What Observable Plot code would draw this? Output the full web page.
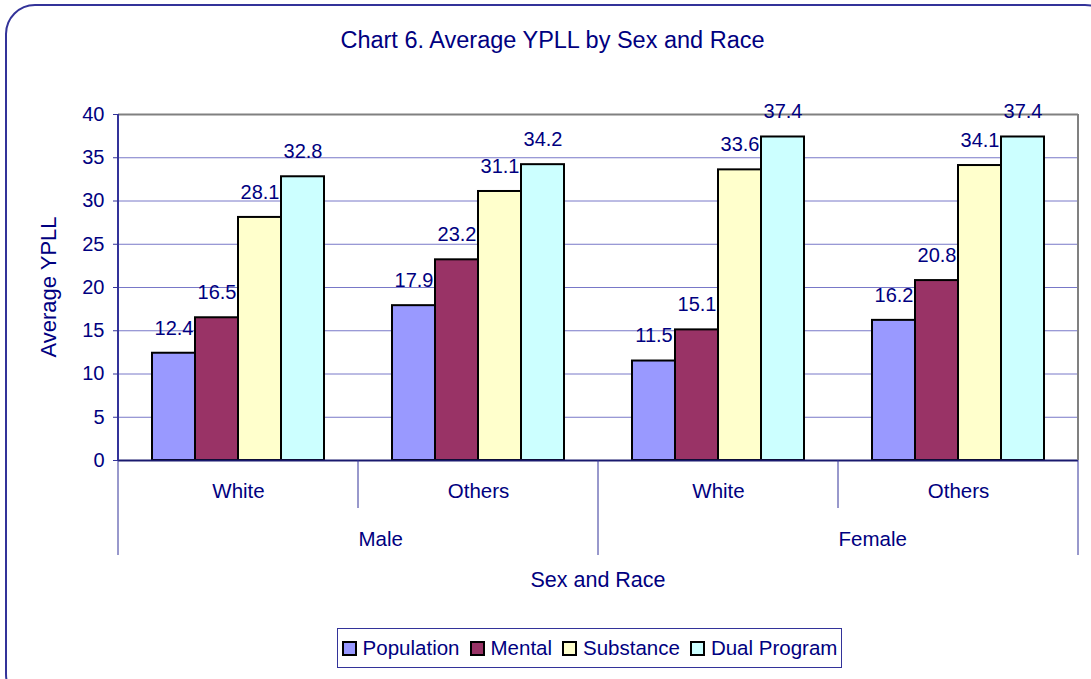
<!DOCTYPE html>
<html>
<head>
<meta charset="utf-8">
<script src="https://cdn.jsdelivr.net/npm/d3@7"></script>
<script src="https://cdn.jsdelivr.net/npm/@observablehq/plot@0.6"></script>
<style>
  html, body { margin: 0; padding: 0; background: #fff; }
  body { width: 1091px; height: 679px; overflow: hidden; position: relative; font-family: "Liberation Sans", Arial, sans-serif; color: #000080; }
  #border { position: absolute; left: 5px; top: 4px; width: 1110px; height: 700px; border: 2px solid #333399; border-radius: 30px; box-sizing: border-box; }
  #title { position: absolute; left: 0; width: 1105px; top: 25px; text-align: center; font-size: 23.5px; line-height: 30px; }
  #chart { position: absolute; left: 0; top: 0; }
  #xlabel { position: absolute; left: 398px; width: 400px; top: 567px; text-align: center; font-size: 21.5px; line-height: 26px; }
  #legend { position: absolute; left: 337px; top: 628px; width: 505px; height: 40px; border: 1px solid #333399; box-sizing: border-box; display: flex; align-items: center; justify-content: center; gap: 10px; font-size: 20.5px; }
  .item { display: flex; align-items: center; gap: 6px; }
  .sw { width: 11px; height: 11px; border: 2px solid #000; }
</style>
</head>
<body>
<div id="border"></div>
<div id="title">Chart 6. Average YPLL by Sex and Race</div>
<div id="chart"></div>
<div id="xlabel">Sex and Race</div>
<div id="legend"></div>
<script>
// ---- data ----
const sexes = ["Male", "Male", "Female", "Female"];
const races = ["White", "Others", "White", "Others"];
const seriesNames = ["Population", "Mental", "Substance", "Dual Program"];
const seriesColors = ["#9999FF", "#993366", "#FFFFCC", "#CCFFFF"];
const population = [12.4, 17.9, 11.5, 16.2];
const mental = [16.5, 23.2, 15.1, 20.8];
const substance = [28.1, 31.1, 33.6, 34.1];
const dualProgram = [32.8, 34.2, 37.4, 37.4];
const yTicks = [0, 5, 10, 15, 20, 25, 30, 35, 40];

const groups = sexes.map((s, i) => s + "|" + races[i]);
const seriesValues = [population, mental, substance, dualProgram];
const rows = [];
groups.forEach((g, gi) => seriesNames.forEach((s, si) => rows.push({group: g, series: s, value: seriesValues[si][gi]})));
const sexLabels = [{group: groups[1], text: "Male"}, {group: groups[3], text: "Female"}];

const navy = "#000080";
const font = "Liberation Sans, Arial, sans-serif";

const plot = Plot.plot({
  width: 1091,
  height: 679,
  marginLeft: 118,
  marginRight: 13,
  marginTop: 114,
  marginBottom: 219,
  style: {fontFamily: font, fontSize: "20px", color: navy, background: "transparent", overflow: "visible"},
  fx: {domain: groups, padding: 0, label: null},
  x: {domain: seriesNames, paddingInner: 0, paddingOuter: 0.76, axis: null},
  y: {domain: [0, 40], ticks: yTicks, label: null},
  color: {domain: seriesNames, range: seriesColors},
  marks: [
    Plot.ruleY(yTicks.filter(t => t > 0 && t < 40), {stroke: "#7878C8", strokeWidth: 1}),
    Plot.ruleY([40], {stroke: "#808080", strokeWidth: 2}),
    Plot.barY(rows, {fx: "group", x: "series", y: "value", fill: "series", stroke: "#000", strokeWidth: 2}),
    Plot.ruleY([0], {stroke: "#1a1a6e", strokeWidth: 2}),
    Plot.text(rows, {fx: "group", x: "series", y: "value", text: d => d.value.toFixed(1), dy: -25, fill: navy, fontSize: 20}),
    Plot.axisY({ticks: yTicks, tickSize: 5, tickPadding: 9, stroke: "#333399", fill: navy, fontSize: 20, label: null}),
    Plot.axisFx({anchor: "bottom", tickSize: 0, tickPadding: 23, tickFormat: d => d.split("|")[1], fill: navy, fontSize: 20.5, label: null}),
    Plot.text(sexLabels, {fx: "group", text: "text", frameAnchor: "bottom-left", dy: 85, fill: navy, fontSize: 20.5})
  ]
});
document.getElementById("chart").appendChild(plot);

// decorations derived from the plot's own scales
const fx = plot.scale("fx");
const ys = plot.scale("y");
const svg = d3.select(plot);
const y0 = ys.apply(0), y40 = ys.apply(40);
const bw = fx.bandwidth;
const starts = groups.map(g => fx.apply(g));
const xEnd = starts[starts.length - 1] + bw;
const deco = svg.append("g");
// y axis line
deco.append("line").attr("x1", starts[0]).attr("x2", starts[0]).attr("y1", y40).attr("y2", y0).attr("stroke", "#333399").attr("stroke-width", 2);
// right plot border
deco.append("line").attr("x1", xEnd).attr("x2", xEnd).attr("y1", y40).attr("y2", y0).attr("stroke", "#808080").attr("stroke-width", 2);
// category separators below axis
const bounds = starts.concat([xEnd]);
bounds.forEach((x, i) => {
  const long = i % 2 === 0;
  deco.append("line").attr("x1", x).attr("x2", x).attr("y1", y0).attr("y2", y0 + (long ? 95 : 48)).attr("stroke", "#333399").attr("stroke-width", 1);
});
// y axis title
deco.append("text").attr("transform", `translate(48,${(y0 + y40) / 2}) rotate(-90)`).attr("text-anchor", "middle").attr("dominant-baseline", "central").attr("fill", navy).style("font-size", "22px").text("Average YPLL");

// legend
const legend = d3.select("#legend");
seriesNames.forEach((s, i) => {
  const it = legend.append("div").attr("class", "item");
  it.append("div").attr("class", "sw").style("background", seriesColors[i]);
  it.append("span").text(s);
});
</script>
</body>
</html>
